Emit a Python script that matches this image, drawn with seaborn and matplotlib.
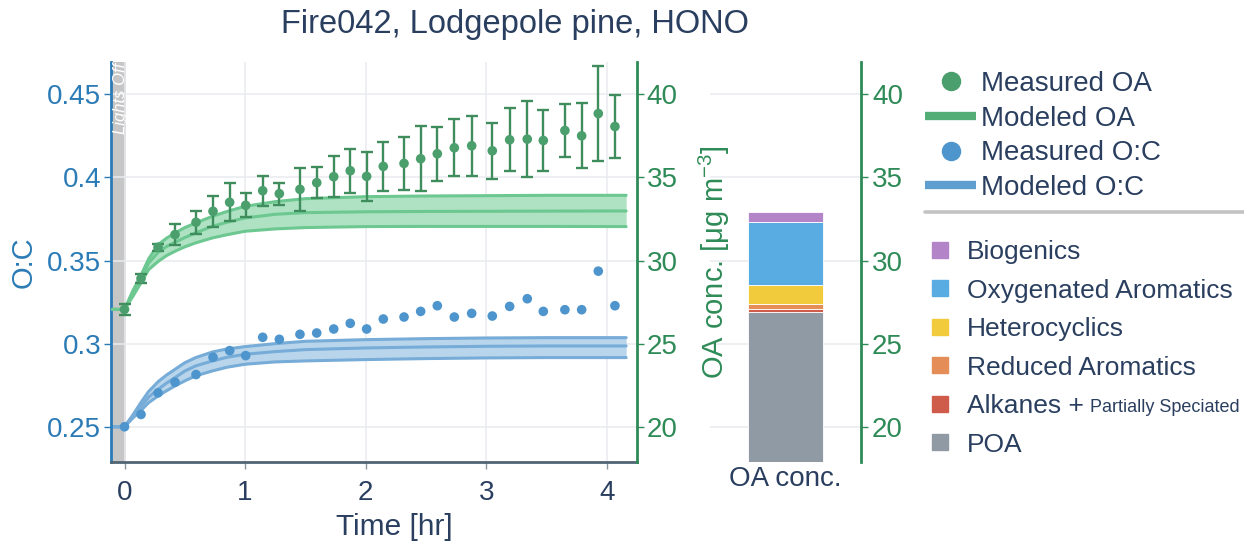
import matplotlib
matplotlib.use("Agg")
import matplotlib.pyplot as plt
from matplotlib.lines import Line2D
import seaborn as sns

# ---------------- data ----------------
time_hr = [0.000, 0.137, 0.278, 0.419, 0.593, 0.734, 0.872, 1.005, 1.146, 1.284,
           1.455, 1.594, 1.735, 1.872, 2.008, 2.146, 2.318, 2.456, 2.594, 2.735,
           2.879, 3.050, 3.194, 3.340, 3.473, 3.652, 3.791, 3.929, 4.067]

oa_measured = [27.06, 28.92, 30.80, 31.56, 32.30, 32.96, 33.50, 33.32, 34.20, 34.02,
               34.28, 34.68, 35.04, 35.40, 35.06, 35.66, 35.84, 36.12, 36.42, 36.78,
               36.90, 36.60, 37.26, 37.30, 37.22, 37.82, 37.50, 38.84, 38.06]
oa_error = [0.33, 0.25, 0.20, 0.62, 0.70, 0.92, 1.15, 0.73, 0.91, 0.66,
            1.30, 0.95, 1.23, 1.31, 1.48, 1.48, 1.60, 1.95, 1.62, 1.72,
            1.82, 1.69, 1.90, 2.30, 1.82, 1.57, 1.95, 2.84, 1.88]

oc_measured = [0.2500, 0.2574, 0.2704, 0.2768, 0.2814, 0.2918, 0.2958, 0.2928, 0.3038, 0.3026,
               0.3056, 0.3064, 0.3088, 0.3122, 0.3088, 0.3148, 0.3160, 0.3194, 0.3228, 0.3160,
               0.3182, 0.3166, 0.3224, 0.3270, 0.3194, 0.3204, 0.3204, 0.3436, 0.3228]

model_time = [-0.10, 0.0, 0.07, 0.14, 0.20, 0.28, 0.35, 0.42, 0.50, 0.59,
              0.73, 0.85, 1.00, 1.25, 1.50, 2.00, 2.50, 3.00, 3.50, 4.16]
oa_model_high = [27.06, 27.06, 28.20, 29.16, 30.10, 30.96, 31.35, 31.66, 31.98, 32.26,
                 32.66, 32.95, 33.26, 33.54, 33.72, 33.84, 33.88, 33.90, 33.92, 33.92]
oa_model_mid = [27.06, 27.06, 28.00, 28.96, 29.85, 30.50, 30.85, 31.10, 31.38, 31.66,
                32.06, 32.30, 32.56, 32.78, 32.88, 32.93, 32.95, 32.96, 32.97, 32.98]
oa_model_low = [27.06, 27.06, 27.85, 28.70, 29.45, 29.95, 30.30, 30.56, 30.82, 31.06,
                31.36, 31.55, 31.76, 31.90, 31.98, 32.04, 32.05, 32.05, 32.05, 32.04]
oc_model_high = [0.2500, 0.2500, 0.2572, 0.2650, 0.2712, 0.2772, 0.2812, 0.2846, 0.2885, 0.2916,
                 0.2950, 0.2968, 0.2982, 0.3000, 0.3014, 0.3024, 0.3030, 0.3034, 0.3036, 0.3036]
oc_model_mid = [0.2500, 0.2500, 0.2563, 0.2624, 0.2678, 0.2726, 0.2763, 0.2796, 0.2835, 0.2866,
                0.2896, 0.2918, 0.2936, 0.2952, 0.2964, 0.2974, 0.2980, 0.2984, 0.2986, 0.2986]
oc_model_low = [0.2500, 0.2500, 0.2553, 0.2600, 0.2645, 0.2686, 0.2717, 0.2746, 0.2776, 0.2806,
                0.2836, 0.2858, 0.2876, 0.2890, 0.2896, 0.2904, 0.2910, 0.2914, 0.2916, 0.2916]

# composition of modeled OA (stacked from bottom to top)
species = ["POA", "Alkanes +", "Reduced Aromatics", "Heterocyclics",
           "Oxygenated Aromatics", "Biogenics"]
species_conc = [26.92, 0.18, 0.26, 1.16, 3.80, 0.60]
species_colors = ["#909aa4", "#cf5b4b", "#e48d57", "#f1cb3b", "#58ace1", "#b484c8"]

oc_ticks = [0.25, 0.30, 0.35, 0.40, 0.45]
oc_ticklabels = ["0.25", "0.3", "0.35", "0.4", "0.45"]
oa_ticks = [20, 25, 30, 35, 40]
time_ticks = [0, 1, 2, 3, 4]

# ---------------- style ----------------
sns.set_theme(style="white")
plt.rcParams["font.family"] = ["Liberation Sans", "DejaVu Sans"]
plt.rcParams["mathtext.fontset"] = "custom"
plt.rcParams["mathtext.rm"] = "Liberation Sans"

TEXT = "#2a3f5f"
OC_AXIS = "#2b7bb6"
OA_AXIS = "#2e8b57"
GRID = "#e9ebef"
OA_DOT = "#4b9f6c"
OA_ERR = "#3f8c5c"
OA_LINE = "#6cc890"
OA_FILL = "#aee2c2"
OC_DOT = "#4d95cc"
OC_LINE = "#76acd7"
OC_FILL = "#b9d5eb"

W, H = 1244, 546


def px_rect(left, top, right, bottom):
    return [left / W, 1 - bottom / H, (right - left) / W, (bottom - top) / H]


fig = plt.figure(figsize=(W / 100, H / 100), dpi=100)
fig.patch.set_facecolor("white")

ax = fig.add_axes(px_rect(111, 62, 637, 462))
ax2 = ax.twinx()
axb = fig.add_axes(px_rect(710, 62, 861, 462))

OC_LIM = (0.2288, 0.4694)
OA_LIM = (17.88, 41.94)

# ---- O:C (left axis) ----
ax.axvspan(-0.115, 0.01, color="#c6c6c6", zorder=0.5, lw=0)
ax.fill_between(model_time, oc_model_low, oc_model_high, color=OC_FILL, lw=0, zorder=1)
for series in (oc_model_high, oc_model_mid, oc_model_low):
    sns.lineplot(x=model_time, y=series, ax=ax, color=OC_LINE, lw=2.2,
                 estimator=None, sort=False, zorder=2)
sns.scatterplot(x=time_hr, y=oc_measured, ax=ax, color=OC_DOT, s=48,
                edgecolor="none", zorder=3)

ax.set_xlim(-0.112, 4.25)
ax.set_ylim(*OC_LIM)
ax.set_xticks(time_ticks)
ax.set_yticks(oc_ticks)
ax.set_yticklabels(oc_ticklabels)
ax.grid(True, color=GRID, lw=1.1)
ax.set_axisbelow(True)
ax.set_xlabel("")
ax.set_ylabel("")
for side in ("top", "right"):
    ax.spines[side].set_visible(False)
ax.spines["left"].set_color(OC_AXIS)
ax.spines["left"].set_linewidth(2.0)
ax.spines["bottom"].set_color("#506473")
ax.spines["bottom"].set_linewidth(2.0)
ax.tick_params(axis="y", colors=OC_AXIS, labelsize=20, length=5, width=1, pad=2,
               direction="out", left=True)
ax.tick_params(axis="x", colors="#8a96a0", labelcolor=TEXT, labelsize=20, length=5,
               width=1, pad=8, direction="out", bottom=True)
ax.text(-0.036, 0.999, "Lights Off", transform=ax.get_xaxis_transform(), rotation=90,
        ha="center", va="top", color="white", fontsize=12, style="italic", zorder=4)

# ---- OA (right axis) ----
ax2.fill_between(model_time, oa_model_low, oa_model_high, color=OA_FILL, lw=0, zorder=1)
for series in (oa_model_high, oa_model_mid, oa_model_low):
    sns.lineplot(x=model_time, y=series, ax=ax2, color=OA_LINE, lw=2.2,
                 estimator=None, sort=False, zorder=2)
ax2.errorbar(time_hr, oa_measured, yerr=oa_error, fmt="none", ecolor=OA_ERR,
             elinewidth=1.7, capsize=4.4, capthick=1.7, zorder=3)
sns.scatterplot(x=time_hr, y=oa_measured, ax=ax2, color=OA_DOT, s=48,
                edgecolor="none", zorder=4)
ax2.set_ylim(*OA_LIM)
ax2.set_yticks(oa_ticks)
ax2.set_ylabel("")
for side in ("top", "left", "bottom"):
    ax2.spines[side].set_visible(False)
ax2.spines["right"].set_color(OA_AXIS)
ax2.spines["right"].set_linewidth(2.0)
ax2.tick_params(axis="y", colors=OA_AXIS, labelsize=20, length=5, width=1, pad=2,
                direction="out", right=True)

# ---- stacked composition bar ----
bottom = 0.0
for name, val, col in zip(species, species_conc, species_colors):
    axb.bar([0], [val], bottom=bottom, width=0.5, color=col, edgecolor="white",
            linewidth=0.6, zorder=2)
    bottom += val
axb.set_xlim(-0.5, 0.5)
axb.set_ylim(*OA_LIM)
axb.set_yticks(oa_ticks)
axb.set_xticks([0])
axb.set_xticklabels(["OA conc."])
axb.grid(True, axis="y", color=GRID, lw=1.1)
axb.set_axisbelow(True)
axb.patch.set_alpha(0)
for side in ("top", "left", "bottom"):
    axb.spines[side].set_visible(False)
axb.spines["right"].set_color(OA_AXIS)
axb.spines["right"].set_linewidth(2.0)
axb.yaxis.tick_right()
axb.tick_params(axis="y", colors=OA_AXIS, labelsize=20, length=5, width=1, pad=3,
                direction="out", left=False, right=True)
axb.tick_params(axis="x", length=0, labelsize=20, labelcolor=TEXT, pad=3)

# ---- titles and axis labels ----
fig.text(515 / W, 1 - 25 / H, "Fire042, Lodgepole pine, HONO", ha="center",
         va="center", fontsize=23.5, color=TEXT)
fig.text(394 / W, 1 - 527 / H, "Time [hr]", ha="center", va="center",
         fontsize=21.5, color=TEXT)
fig.text(24 / W, 1 - 262 / H, "O:C", ha="center", va="center", rotation=90,
         fontsize=21, color=OC_AXIS)
fig.text(714 / W, 1 - 262 / H, r"OA conc. [μg m$^{-3}$]", ha="center", va="center",
         rotation=90, fontsize=21, color=OA_AXIS)

# ---- legends ----
top_handles = [
    Line2D([], [], marker="o", ls="none", color=OA_DOT, ms=13),
    Line2D([], [], color="#52ad77", lw=6, solid_capstyle="butt"),
    Line2D([], [], marker="o", ls="none", color=OC_DOT, ms=13),
    Line2D([], [], color="#5f9fcf", lw=6, solid_capstyle="butt"),
]
top_labels = ["Measured OA", "Modeled OA", "Measured O:C", "Modeled O:C"]
leg1 = fig.legend(top_handles, top_labels, loc="upper left",
                  bbox_to_anchor=(925 / W, 1 - 71 / H), frameon=False, fontsize=20,
                  handlelength=1.84, handletextpad=0.17, labelspacing=0.31,
                  borderpad=0, borderaxespad=0, labelcolor=TEXT)

fig.add_artist(Line2D([925 / W, 1.0], [1 - 212 / H, 1 - 212 / H], color="#c3c3c3",
                      lw=2.6, transform=fig.transFigure))

sq_handles = [Line2D([], [], marker="s", ls="none", color=c, ms=11)
              for c in species_colors[::-1]]
leg2 = fig.legend(sq_handles, species[::-1], loc="upper left",
                  bbox_to_anchor=(925 / W, 1 - 240 / H), frameon=False, fontsize=19,
                  handlelength=1.1, handletextpad=0.5, labelspacing=0.55,
                  borderpad=0, borderaxespad=0, labelcolor=TEXT)

# smaller suffix after the "Alkanes +" entry
fig.canvas.draw()
renderer = fig.canvas.get_renderer()
alk_text = [t for t in leg2.get_texts() if t.get_text() == "Alkanes +"][0]
bb = alk_text.get_window_extent(renderer)
fig.text((bb.x1 + 6) / W, (bb.y0 + 0.27 * bb.height) / H, "Partially Speciated",
         ha="left", va="baseline", fontsize=13, color=TEXT)

fig.savefig("out.png", dpi=100, facecolor="white")
